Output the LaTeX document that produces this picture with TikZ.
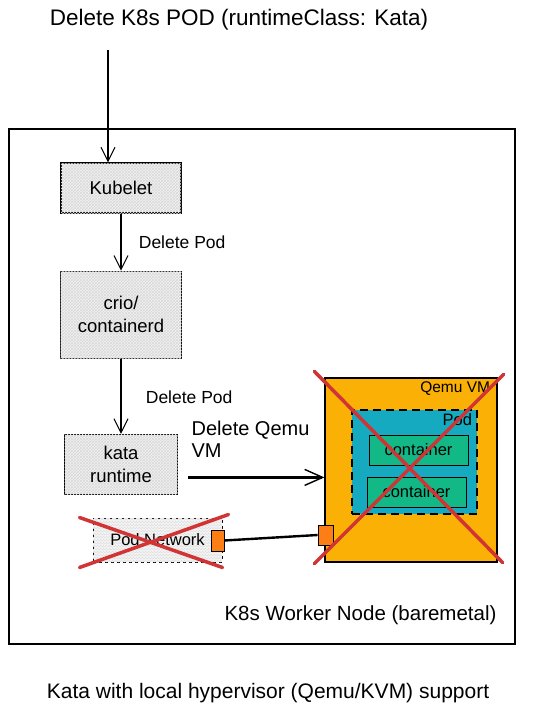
\documentclass[tikz,border=0pt]{standalone}
\usepackage{fontspec}
\setmainfont{Liberation Sans}
\usepackage{xcolor}
\usepackage{tikz}
\usetikzlibrary{positioning, shapes, arrows.meta, patterns}

\definecolor{qemuorange}{RGB}{250,176,5}
\definecolor{podblue}{RGB}{21,170,191}
\definecolor{contgreen}{RGB}{18,184,134}
\definecolor{portorange}{RGB}{253,126,20}
\definecolor{crossred}{RGB}{208,52,52}

\begin{document}
\begin{tikzpicture}[
		x=1pt, y=-1pt,
		node distance=57pt and 10pt,
		comp/.style={rectangle, draw, line width=1.2pt, fill=gray!10, postaction={pattern=crosshatch, pattern color=gray!30}, align=center, font=\fontsize{18.5}{23}\selectfont},
		ctr/.style={rectangle, draw, line width=1pt, fill=contgreen, minimum width=99pt, minimum height=30pt, font=\fontsize{16.5}{18}\selectfont},
		port/.style={rectangle, draw, line width=0.8pt, fill=portorange, minimum width=13pt, minimum height=21pt, inner sep=0pt},
		lbl/.style={font=\fontsize{16.5}{18}\selectfont},
		steplbl/.style={font=\fontsize{17.5}{19}\selectfont},
		flow/.style={line width=1.1pt, -{Straight Barb[length=14pt, width=14pt, line width=1pt]}},
		cross/.style={crossred, line width=3.5pt, line cap=round}
		]
		\useasboundingbox (0,0) rectangle (536,718);
		
		% Title and outer worker node
		\node[font=\fontsize{22.5}{26}\selectfont] (title) at (239,20) {Delete K8s POD (runtimeClass: Kata)};
		\node[rectangle, draw, line width=1.2pt, minimum width=506pt, minimum height=515pt] (worker) at (262,386.5) {};
		\node[font=\fontsize{20.5}{24}\selectfont, anchor=east] (workerlbl) at (500,615) {K8s Worker Node (baremetal)};
		
		% Stack on the host
		\node[comp, minimum width=120pt, minimum height=50pt] (kubelet) at (121,188) {Kubelet};
		\node[comp, minimum width=121pt, minimum height=87pt, below=57pt of kubelet] (crio) {crio/\\containerd};
		\node[comp, minimum width=113pt, minimum height=60pt, below=75pt of crio] (kata) {kata\\runtime};
		
		% Qemu VM with the pod inside
		\node[rectangle, draw, line width=1.2pt, fill=qemuorange, minimum width=172pt, minimum height=184pt] (qemu) at (411,470) {};
		\node[lbl, font=\fontsize{15.5}{17}\selectfont, anchor=north east] (qemulbl) at ([xshift=-4pt, yshift=-1pt]qemu.north east) {Qemu VM};
		\node[rectangle, draw, line width=1.1pt, dash pattern=on 8pt off 5pt, fill=podblue, minimum width=125pt, minimum height=104pt] (pod) at (414.5,462) {};
		\node[lbl, anchor=north east] (podlbl) at ([xshift=-2pt, yshift=-1pt]pod.north east) {Pod};
		\node[ctr] (ctr1) at (418.5,450) {container};
		\node[ctr] (ctr2) at (416.5,492) {container};
		
		% Pod network and ports
		\node[rectangle, draw, line width=1pt, dash pattern=on 3pt off 3pt, fill=gray!8, postaction={pattern=crosshatch, pattern color=gray!25}, minimum width=129pt, minimum height=44pt, lbl] (net) at (157.5,540) {Pod Network\hspace{6pt}};
		\node[port] (netport) at (217.5,540.5) {};
		\node[port, minimum width=15pt, minimum height=20pt] (vmport) at (325.5,535) {};
		
		% Connectors
		\coordinate (start) at (108,50);
		\draw[flow] (start) -- (start |- kubelet.north);
		\draw[flow] (kubelet) -- (crio) node[midway, right=14pt, steplbl] {Delete Pod};
		\draw[flow] (crio) -- (kata) node[midway, right=21pt, steplbl, yshift=-1pt] {Delete Pod};
		\coordinate (vmfrom) at ([xshift=10pt, yshift=-13pt]kata.east);
		\draw[line width=2.2pt, -{Straight Barb[length=18pt, width=16pt, line width=1.4pt]}] (vmfrom) -- (vmfrom -| qemu.west);
		\node[font=\fontsize{20}{22}\selectfont, align=left, anchor=south west] (vmlbl) at ([yshift=16pt]vmfrom) {Delete Qemu\\VM};
		\draw[line width=2.4pt] (netport.east) -- (vmport.west);
		
		% Red crosses
		\draw[cross] ([shift={(-10pt,6pt)}]qemu.north west) -- ([shift={(5pt,0pt)}]qemu.south east);
		\draw[cross] ([shift={(6pt,3pt)}]qemu.north east) -- ([shift={(-10pt,-1pt)}]qemu.south west);
		\draw[cross] ([shift={(-13pt,0pt)}]net.north west) -- ([shift={(0pt,-5pt)}]net.south east);
		\draw[cross] ([shift={(-13pt,-5pt)}]net.south west) -- ([shift={(6pt,3pt)}]net.north east);
		
		% Caption
		\node[font=\fontsize{21}{25}\selectfont] (caption) at (268,693) {Kata with local hypervisor (Qemu/KVM) support};
	\end{tikzpicture}
\end{document}
